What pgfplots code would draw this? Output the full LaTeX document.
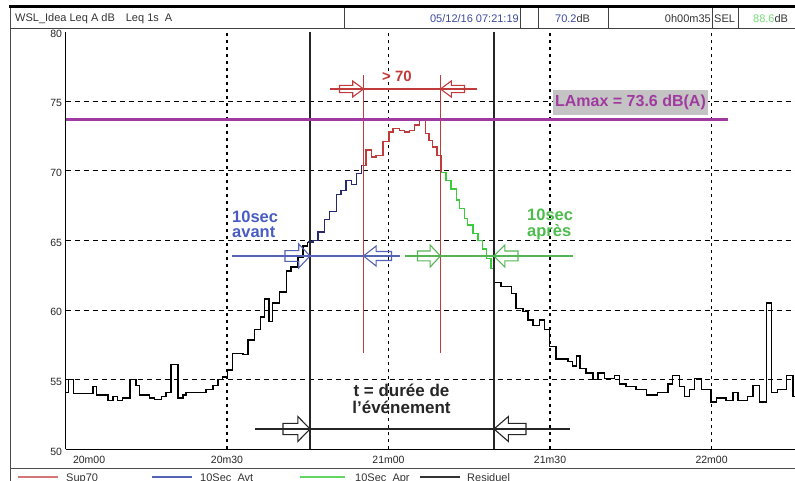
\documentclass[border=0pt]{standalone}
\usepackage{fontspec}
\setmainfont{Liberation Sans}
\usepackage{pgfplots}
\pgfplotsset{compat=1.18}
\definecolor{cred}{HTML}{C23B3B}
\definecolor{cblue}{HTML}{27296E}
\definecolor{lblue}{HTML}{5563B5}
\definecolor{tblue}{HTML}{4A5CC4}
\definecolor{cgreen}{HTML}{3CCB3C}
\definecolor{lgreen}{HTML}{55B555}
\definecolor{tgreen}{HTML}{4CBC4C}
\definecolor{cpurple}{HTML}{A03AA0}
\definecolor{boxgray}{HTML}{C4C4C4}
% hollow block arrow: tip x, y, dir (1 right / -1 left), length, half height, style
\newcommand{\barrow}[6]{\draw[#6] (#1,#2) -- ({#1-(#3)*0.45*#4},{#2-#5}) -- ({#1-(#3)*0.45*#4},{#2-0.45*#5}) -- ({#1-(#3)*#4},{#2-0.45*#5}) -- ({#1-(#3)*#4},{#2+0.45*#5}) -- ({#1-(#3)*0.45*#4},{#2+0.45*#5}) -- ({#1-(#3)*0.45*#4},{#2+#5}) -- cycle;}
\begin{document}
\begin{tikzpicture}
\useasboundingbox (0,0) rectangle (795bp,481bp);
\begin{axis}[
  at={(65.5bp,31.6bp)}, anchor=south west,
  scale only axis, width=729.5bp, height=417.8bp,
  xmin=0, xmax=135.5, ymin=50, ymax=80,
  axis x line=bottom, axis y line=left,
  axis line style={-, black, line width=1.2bp},
  xtick={30,60,90,120}, xticklabels={20m30,21m00,21m30,22m00},
  extra x ticks={0}, extra x tick labels={20m00},
  extra x tick style={grid=none, xticklabel style={anchor=north west, xshift=4bp}},
  ytick={55,60,65,70,75},
  extra y ticks={50,80},
  extra y tick style={grid=none},
  xmajorgrids, ymajorgrids,
  major y grid style={black, line width=0.9bp, dash pattern=on 5bp off 4bp},
  major x grid style={black, line width=1.6bp, dash pattern=on 3bp off 4bp},
  major tick length=0pt,
  tick label style={font=\fontsize{10.5bp}{12bp}\selectfont, text=black!85},
  xticklabel style={yshift=-3bp},
  yticklabel style={yshift=-2bp},
  /pgf/number format/assume math mode=true,
]
\addplot[const plot, black, line width=1.4bp] coordinates {
(0,54.1) (0.6,55.0) (1.5,54.0) (5.1,54.5) (5.8,53.9) (7.9,53.5) (8.8,53.8) (9.7,53.5)
(10.6,53.7) (12.0,55.0) (13.1,54.6) (13.7,53.9) (15.6,53.7) (16.5,53.6) (17.8,53.8)
(18.7,54.1) (19.6,56.1) (20.9,53.7) (21.8,53.9) (22.4,54.1) (26.1,54.3) (27.4,54.6)
(28.3,55.0) (29.2,55.2) (30.1,55.7) (31.0,56.9) (33.0,56.8) (33.9,57.85) (35.1,58.6)
(36.2,59.5) (37.0,60.8) (37.8,59.2) (38.5,60.5) (39.8,61.3) (41.0,62.8) (41.9,63.1)
(43.2,63.8) (44.1,64.6) (45.0,64.9)};
\addplot[const plot, cblue, line width=1.4bp] coordinates {
(45.0,64.9) (46.0,65.0) (46.9,65.6) (48.1,66.5) (49.0,67.1) (50.3,68.3) (51.2,68.6)
(52.1,69.3) (53.1,69.0) (54.0,69.8) (55.0,70.4)};
\addplot[const plot, cred, line width=1.4bp] coordinates {
(55.0,70.4) (55.85,71.5) (56.8,71.0) (57.7,71.1) (58.95,72.1) (60.1,72.8) (60.8,73.05)
(62.05,72.9) (63.0,72.8) (63.9,72.9) (64.8,73.3) (65.8,73.6) (66.9,72.7) (67.5,72.2)
(68.2,71.7) (69.0,71.1) (69.8,69.9)};
\addplot[const plot, cgreen, line width=1.4bp] coordinates {
(69.8,69.9) (70.7,69.3) (71.6,68.7) (72.6,67.9) (73.2,67.3) (74.1,66.6) (74.7,66.1)
(75.7,65.5) (76.6,65.0) (77.5,64.4) (78.2,63.7) (79.0,63.0) (79.7,62.0)};
\addplot[const plot, black, line width=1.4bp] coordinates {
(79.7,62.0) (80.9,61.7) (82.8,61.2) (83.7,60.1) (84.95,59.9) (85.9,59.3) (86.8,58.9)
(88.0,59.3) (89.0,58.6) (89.9,57.4) (91.1,56.5) (93.3,56.3) (94.2,56.0) (94.9,56.7)
(95.6,55.8) (96.7,55.5) (97.95,55.0) (98.9,55.5) (100.1,55.1) (102.0,55.3) (102.9,54.7)
(104.1,54.5) (106.0,54.3) (107.9,53.9) (110.0,54.1) (111.9,54.7) (112.8,55.3) (114.05,54.5)
(115.0,53.8) (115.9,54.3) (116.8,55.1) (118.1,54.3) (119.9,53.4) (120.9,53.7) (122.7,53.5)
(124.0,54.1) (124.9,53.5) (126.7,53.8) (127.7,54.6) (128.9,53.4) (130.15,60.5) (131.1,54.1)
(132.3,54.3) (133.9,55.3) (135.1,53.8) (135.5,53.8)};
\end{axis}
\begin{scope}[x=1bp, y=-1bp, shift={(0,481bp)}]
% frame and header
\draw[black!70, line width=1bp] (10,8) -- (10,481);
\draw[black!75, line width=0.9bp] (10,28) -- (800,28);
\draw[black, line width=3bp] (9,7) -- (800,7);
\foreach \cx in {344,520,538,608,712,738} \draw[black!75, line width=0.9bp] (\cx,8) -- (\cx,28);
\node[anchor=west, inner sep=0, text=black!80, font=\fontsize{11bp}{12bp}\selectfont] at (15,18.5) {WSL\_Idea Leq A dB\quad Leq 1s\ \ A};
\node[anchor=east, inner sep=0, text=tblue!80!black, font=\fontsize{11bp}{12bp}\selectfont] at (519,18.5) {05/12/16 07:21:19};
\node[anchor=west, inner sep=0, text=black!80, font=\fontsize{11bp}{12bp}\selectfont] at (555,18.5) {\textcolor{tblue!80!black}{70.2}dB};
\node[anchor=east, inner sep=0, text=black!80, font=\fontsize{11bp}{12bp}\selectfont] at (711,18.5) {0h00m35};
\node[anchor=west, inner sep=0, text=black!80, font=\fontsize{11bp}{12bp}\selectfont] at (714,18.5) {SEL};
\node[anchor=west, inner sep=0, text=black!80, font=\fontsize{11bp}{12bp}\selectfont] at (753,18.5) {\textcolor{cgreen!70}{88.6}dB};
% legend strip
\draw[black!70, line width=1bp] (10,469) -- (800,469);
\draw[cred!70, line width=2bp] (18,477) -- (58,477);
\draw[lblue, line width=2bp] (152,477) -- (192,477);
\draw[cgreen!80, line width=2bp] (300,477) -- (345,477);
\draw[black!80, line width=2bp] (420,477) -- (460,477);
\begin{scope}[every node/.style={anchor=base west, inner sep=0, text=black!80, font=\fontsize{11bp}{12bp}\selectfont}]
\node at (66,482) {Sup70};
\node at (200,482) {10Sec\_Avt};
\node at (355,482) {10Sec\_Apr};
\node at (467,482) {Residuel};
\end{scope}
% event verticals
\draw[black!85, line width=1.3bp] (310,31.6) -- (310,449.4);
\draw[black!85, line width=1.3bp] (494,31.6) -- (494,449.4);
\draw[cred, line width=1.6bp] (363.5,75) -- (363.5,353);
\draw[cred, line width=1.6bp] (440.5,75) -- (440.5,353);
% LAmax
\draw[cpurple, line width=3.5bp] (65.5,119.3) -- (728,119.3);
\fill[boxgray] (552.7,90) rectangle (708.3,115);
\node[inner sep=0, text=cpurple, font=\bfseries\fontsize{16bp}{16bp}\selectfont] at (630.5,102.5) {LAmax = 73.6 dB(A)};
% >70
\node[inner sep=0, text=cred, font=\bfseries\fontsize{15bp}{15bp}\selectfont] at (397,76) {> 70};
\draw[cred, line width=1.1bp] (330,89) -- (477,89);
\barrow{363.5}{89}{1}{24}{8}{cred, line width=1.1bp}
\barrow{440.5}{89}{-1}{24}{8}{cred, line width=1.1bp}
% 10 sec avant
\node[anchor=north west, align=left, inner sep=0, text=tblue, font=\bfseries\fontsize{16.5bp}{15bp}\selectfont] at (232,211) {10sec\\avant};
\draw[lblue, line width=1.1bp] (232,256) -- (400,256);
\barrow{310}{256}{1}{25}{12}{lblue, line width=1.1bp}
\barrow{363.5}{256}{-1}{28}{10}{lblue, line width=1.1bp}
% 10 sec apres
\node[anchor=north west, align=left, inner sep=0, text=tgreen, font=\bfseries\fontsize{16.5bp}{16bp}\selectfont] at (527,209) {10sec\\après};
\draw[lgreen, line width=1.1bp] (405,256) -- (573,256);
\barrow{440.5}{256}{1}{23}{11}{lgreen, line width=1.1bp}
\barrow{494}{256}{-1}{24}{11}{lgreen, line width=1.1bp}
% duration
\node[anchor=north, align=center, inner sep=0, text=black!85, font=\bfseries\fontsize{17bp}{17bp}\selectfont] at (401.5,384) {t = durée de\\l'événement};
\draw[black!85, line width=1.1bp] (255,429) -- (570,429);
\barrow{310}{429}{1}{27}{12.5}{black!85, line width=1.1bp}
\barrow{494}{429}{-1}{32}{12.5}{black!85, line width=1.1bp}
\end{scope}
\end{tikzpicture}
\end{document}
